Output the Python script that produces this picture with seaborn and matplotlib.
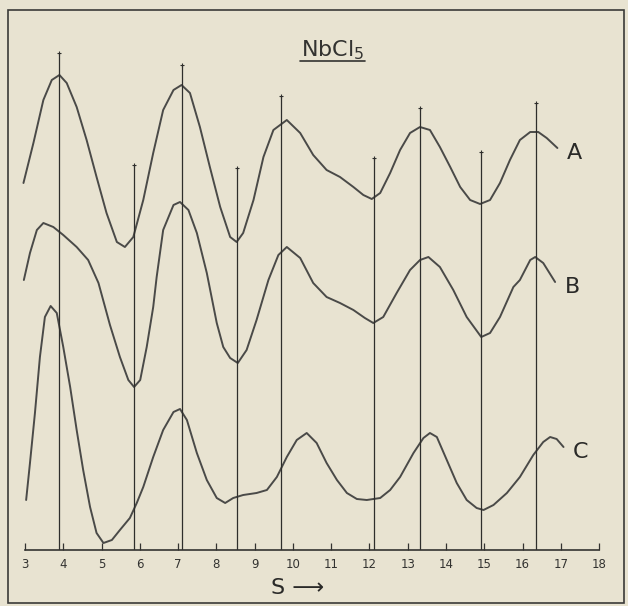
import matplotlib
matplotlib.use("Agg")
import matplotlib.pyplot as plt
from matplotlib.lines import Line2D
from matplotlib.patches import Rectangle
import seaborn as sns
import pandas as pd

# scattering variable s and intensity (arbitrary units, curves offset)
s_a = [2.96, 3.22, 3.48, 3.70, 3.90, 4.09, 4.35, 4.61, 4.87, 5.13, 5.40, 5.61, 5.83,
       6.09, 6.35, 6.61, 6.88, 7.09, 7.31, 7.57, 7.83, 8.10, 8.36, 8.53, 8.70, 8.97,
       9.23, 9.49, 9.84, 10.19, 10.53, 10.88, 11.23, 11.58, 11.84, 12.06, 12.28,
       12.54, 12.80, 13.06, 13.32, 13.58, 13.84, 14.11, 14.37, 14.63, 14.89, 15.15,
       15.41, 15.67, 15.93, 16.20, 16.41, 16.63, 16.91]
i_a = [36.7, 40.7, 45.0, 47.0, 47.5, 46.7, 44.3, 41.0, 37.3, 33.7, 30.8, 30.3, 31.3,
       35.0, 39.7, 44.0, 46.0, 46.5, 45.7, 42.3, 38.3, 34.3, 31.3, 30.8, 31.7, 35.0,
       39.3, 42.0, 43.0, 41.7, 39.5, 38.0, 37.3, 36.3, 35.5, 35.1, 35.7,
       37.7, 40.0, 41.7, 42.3, 42.0, 40.3, 38.3, 36.3, 35.0, 34.6, 35.0,
       36.7, 39.0, 41.0, 41.8, 41.8, 41.2, 40.2]

s_b = [2.97, 3.13, 3.31, 3.48, 3.74, 4.00, 4.35, 4.65, 4.92, 5.22, 5.48, 5.70, 5.85,
       6.01, 6.18, 6.35, 6.44, 6.61, 6.88, 7.05, 7.27, 7.49, 7.75, 8.01, 8.18, 8.36,
       8.56, 8.79, 9.05, 9.36, 9.62, 9.84, 10.19, 10.53, 10.88, 11.23, 11.58, 11.88,
       12.10, 12.36, 12.71, 13.06, 13.32, 13.54, 13.84, 14.19, 14.54, 14.92, 15.15,
       15.41, 15.76, 15.93, 16.20, 16.33, 16.54, 16.85]
i_b = [27.0, 29.7, 32.0, 32.7, 32.3, 31.5, 30.3, 29.0, 26.7, 22.5, 19.3, 17.0, 16.3,
       17.0, 20.3, 24.3, 27.3, 32.0, 34.5, 34.8, 34.0, 31.7, 27.7, 22.7, 20.3, 19.2,
       18.7, 20.0, 23.0, 27.0, 29.5, 30.3, 29.2, 26.7, 25.3, 24.7, 24.0, 23.2,
       22.7, 23.3, 25.7, 28.0, 29.0, 29.3, 28.3, 26.0, 23.3, 21.3, 21.7,
       23.3, 26.3, 27.0, 29.0, 29.3, 28.7, 26.8]

s_c = [3.03, 3.13, 3.26, 3.39, 3.52, 3.67, 3.83, 4.00, 4.18, 4.35, 4.52, 4.70, 4.87,
       5.05, 5.27, 5.48, 5.74, 5.92, 6.09, 6.35, 6.61, 6.88, 7.05, 7.23, 7.49, 7.75,
       8.01, 8.23, 8.44, 8.70, 9.05, 9.32, 9.58, 9.84, 10.10, 10.36, 10.62, 10.88,
       11.15, 11.41, 11.67, 11.93, 12.28, 12.54, 12.80, 13.15, 13.41, 13.58, 13.76,
       14.02, 14.28, 14.54, 14.80, 14.98, 15.24, 15.59, 15.93, 16.28, 16.54, 16.72,
       16.89, 17.07]
i_c = [5.0, 8.7, 13.7, 19.3, 23.3, 24.4, 23.7, 20.3, 16.3, 12.0, 8.0, 4.3, 1.7,
       0.7, 1.0, 2.0, 3.2, 4.7, 6.3, 9.3, 12.0, 13.8, 14.1, 13.0, 9.7, 7.0,
       5.2, 4.7, 5.2, 5.5, 5.7, 6.0, 7.3, 9.3, 11.0, 11.7, 10.7, 8.7,
       7.0, 5.7, 5.1, 5.0, 5.2, 6.0, 7.3, 9.7, 11.2, 11.7, 11.3,
       9.0, 6.7, 5.0, 4.2, 4.0, 4.5, 5.7, 7.3, 9.5, 10.8, 11.3,
       11.1, 10.3]

# marked positions (vertical lines) and their heights
line_s = [3.89, 5.84, 7.11, 8.55, 9.70, 12.11, 13.31, 14.91, 16.35]
line_top = [49.7, 38.5, 48.5, 38.2, 45.4, 39.2, 44.2, 39.8, 44.7]

s_ticks = list(range(3, 19))
curve_names = ["A", "B", "C"]

paper = "#e8e3d1"
ink = "#4a4a48"

sns.set_theme(style="white")
plt.rcParams["font.family"] = ["DejaVu Sans"]
plt.rcParams["mathtext.default"] = "regular"

df = pd.concat([
    pd.DataFrame({"s": s_a, "I": i_a, "curve": "A"}),
    pd.DataFrame({"s": s_b, "I": i_b, "curve": "B"}),
    pd.DataFrame({"s": s_c, "I": i_c, "curve": "C"}),
])

fig = plt.figure(figsize=(6.28, 6.06), dpi=100, facecolor=paper)
ax = fig.add_axes([8 / 628, 56 / 606, 616 / 628, 540 / 606])
ax.set_facecolor("none")

sns.lineplot(data=df, x="s", y="I", hue="curve", units="curve", estimator=None,
             sort=False, palette={n: ink for n in curve_names}, lw=1.4,
             solid_joinstyle="round", solid_capstyle="round",
             legend=False, ax=ax)

ax.vlines(line_s, 0, line_top, color="#2e2e2c", lw=0.9)
ax.plot(line_s, line_top, ls="none", marker="+", ms=3.5, mew=0.8, color="#2e2e2c")

# curve letters at the right end of each trace
for name, xs, ys in [("A", s_a, i_a), ("B", s_b, i_b), ("C", s_c, i_c)]:
    ax.text(xs[-1] + 0.45, ys[-1] - 0.5, name, fontsize=16, color="#2a2a28",
            ha="center", va="center")

ax.set_xlim(2.556, 18.65)
ax.set_ylim(0, 54)
ax.set_xticks(s_ticks)
ax.set_xticklabels([str(t) for t in s_ticks])
ax.set_yticks([])
ax.set_ylabel("")
for side in ["top", "left", "right"]:
    ax.spines[side].set_visible(False)
ax.spines["bottom"].set_bounds(s_ticks[0], s_ticks[-1])
ax.spines["bottom"].set_color("#333331")
ax.spines["bottom"].set_linewidth(1.2)
ax.tick_params(axis="x", direction="in", length=5, width=0.9, pad=6,
               labelsize=8.5, colors="#333331", bottom=True)

ax.set_xlabel("S \u27f6", fontsize=16, color="#2a2a28")
ax.xaxis.set_label_coords((298 - 8) / 616, -38 / 540)
ax.xaxis.label.set_va("center")

# title with underline
fig.text(333 / 628, 1 - 50 / 606, "NbCl$_5$", fontsize=16, color="#333331",
         ha="center", va="center")
fig.add_artist(Line2D([300 / 628, 365 / 628], [1 - 61 / 606] * 2,
                      color="#333331", lw=1.2))

# outer frame
fig.add_artist(Rectangle((8 / 628, 3 / 606), 616 / 628, 593 / 606,
                         transform=fig.transFigure, fill=False,
                         edgecolor="#3a3a38", lw=1.2))

fig.savefig("out.png", dpi=100, facecolor=paper)
